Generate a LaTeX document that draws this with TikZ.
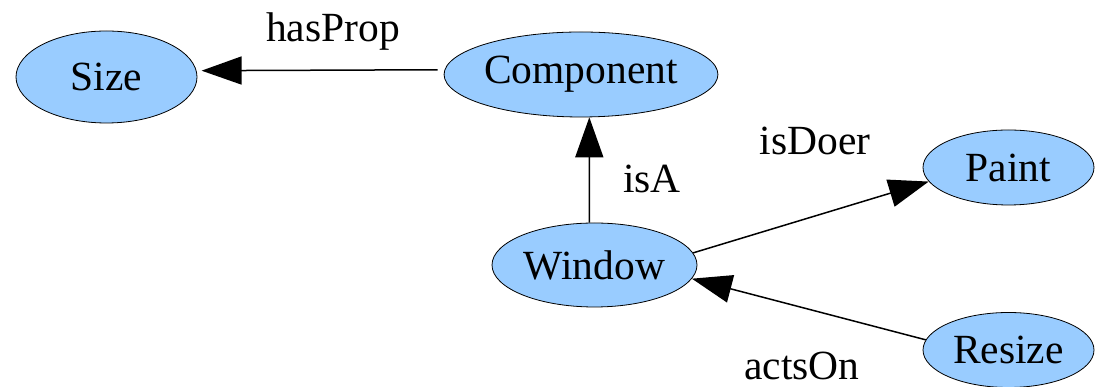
\documentclass[tikz,border=0pt]{standalone}
\usepackage{fontspec}
\setmainfont{Liberation Serif}
\usetikzlibrary{shapes.geometric,arrows.meta}
\definecolor{nodeblue}{RGB}{153,204,255}
\begin{document}
\begin{tikzpicture}[x=1pt,y=1pt,
  concept/.style={ellipse, draw=black, line width=0.8pt, fill=nodeblue,
    inner sep=0pt, font=\fontsize{41.5}{48}\selectfont},
  edge/.style={line width=1.5pt, -{Triangle[length=40pt,width=28pt]}},
  rel/.style={anchor=base, inner sep=0pt, font=\fontsize{41.5}{48}\selectfont}]
\useasboundingbox (0,0) rectangle (1103,387);

% concepts
\node[concept, minimum width=181pt, minimum height=92pt] (size)   at (106.5,310) {Size};
\node[concept, minimum width=256pt, minimum height=85pt] (comp)   at (581,312.5) {Component};
\node[concept, minimum width=205pt, minimum height=84pt] (win)    at (594.5,122) {Window};
\node[concept, minimum width=171pt, minimum height=75pt] (paint)  at (1008.5,219.5) {Paint};
\node[concept, minimum width=171pt, minimum height=75pt] (resize) at (1008.5,37) {Resize};

% relations
\draw[edge, shorten <=7pt, shorten >=5pt] (comp.178.5) -- (size.4.2);
\draw[edge] (win.97.5) -- (comp.-79.3);
\draw[edge] (win.7.4) -- (paint.190.8);
\draw[edge] (resize.173.4) -- (win.-8.9);

% relation labels
\node[rel] (lhas)  at (333,345) {hasProp};
\node[rel] (lisa)  at (652,194) {isA};
\node[rel] (ldoer) at (815,232) {isDoer};
\node[rel] (lacts) at (802,7)   {actsOn};
\end{tikzpicture}
\end{document}
